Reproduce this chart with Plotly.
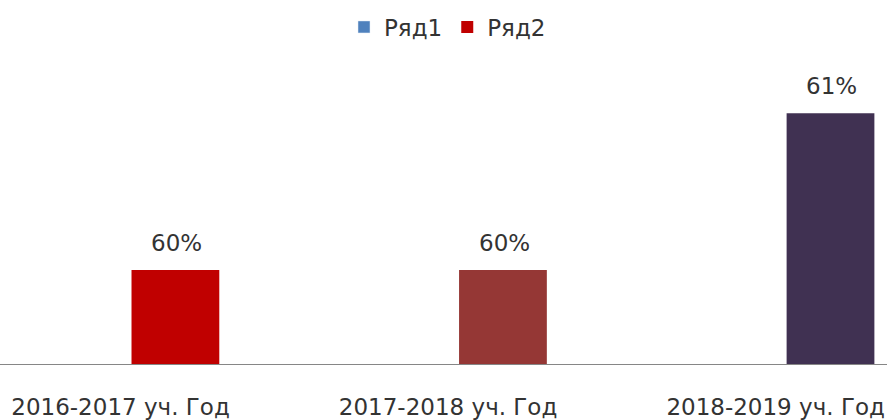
import plotly.graph_objects as go

categories = ["2016-2017 уч. Год", "2017-2018 уч. Год", "2018-2019 уч. Год"]
series1_name = "Ряд1"
series1_values = [None, None, None]
series2_name = "Ряд2"
series2_values = [0.60, 0.60, 0.61]
series2_labels = ["60%", "60%", "61%"]

series1_color = "#4F81BD"
series2_colors = ["#C00000", "#953735", "#403152"]

FONT = "DejaVu Sans"
TEXT_COLOR = "#333333"

fig = go.Figure()
fig.add_trace(go.Bar(
    name=series1_name, x=categories, y=series1_values,
    marker=dict(color=series1_color), hoverinfo="skip",
))
fig.add_trace(go.Bar(
    name=series2_name, x=categories, y=series2_values,
    marker=dict(color=series2_colors, line=dict(width=0)), hoverinfo="skip",
))

for cat, val, lab in zip(categories, series2_values, series2_labels):
    fig.add_annotation(
        x=cat, y=val, text=lab, showarrow=False,
        xanchor="center", yanchor="middle", xshift=56, yshift=27,
        font=dict(family=FONT, size=23, color=TEXT_COLOR),
    )

fig.update_layout(
    width=887, height=420,
    margin=dict(l=0, r=0, t=82, b=56, autoexpand=False),
    paper_bgcolor="white", plot_bgcolor="white",
    barmode="group", bargap=0.33, bargroupgap=0.2,
    showlegend=True,
    legend=dict(
        orientation="h", x=0.5 + 4 / 887, xanchor="center",
        yref="container", y=1 - 27 / 420, yanchor="middle",
        font=dict(family=FONT, size=23, color=TEXT_COLOR),
        traceorder="normal",
    ),
    font=dict(family=FONT, size=23, color=TEXT_COLOR),
)
fig.update_xaxes(
    type="category", range=[-0.368, 2.340],
    showline=True, linecolor="#868686", linewidth=1,
    ticks="outside", ticklen=22, tickcolor="rgba(0,0,0,0)",
    showgrid=False, zeroline=False, automargin=False,
    ticklabeloverflow="allow",
    tickfont=dict(family=FONT, size=23, color=TEXT_COLOR),
)
fig.update_yaxes(
    range=[0.594, 0.612], visible=False, showgrid=False, zeroline=False,
    automargin=False,
)

fig.write_html(
    "out.html",
    config={"displayModeBar": False},
    post_script="document.body.style.margin='0';document.body.style.overflow='hidden';",
)
